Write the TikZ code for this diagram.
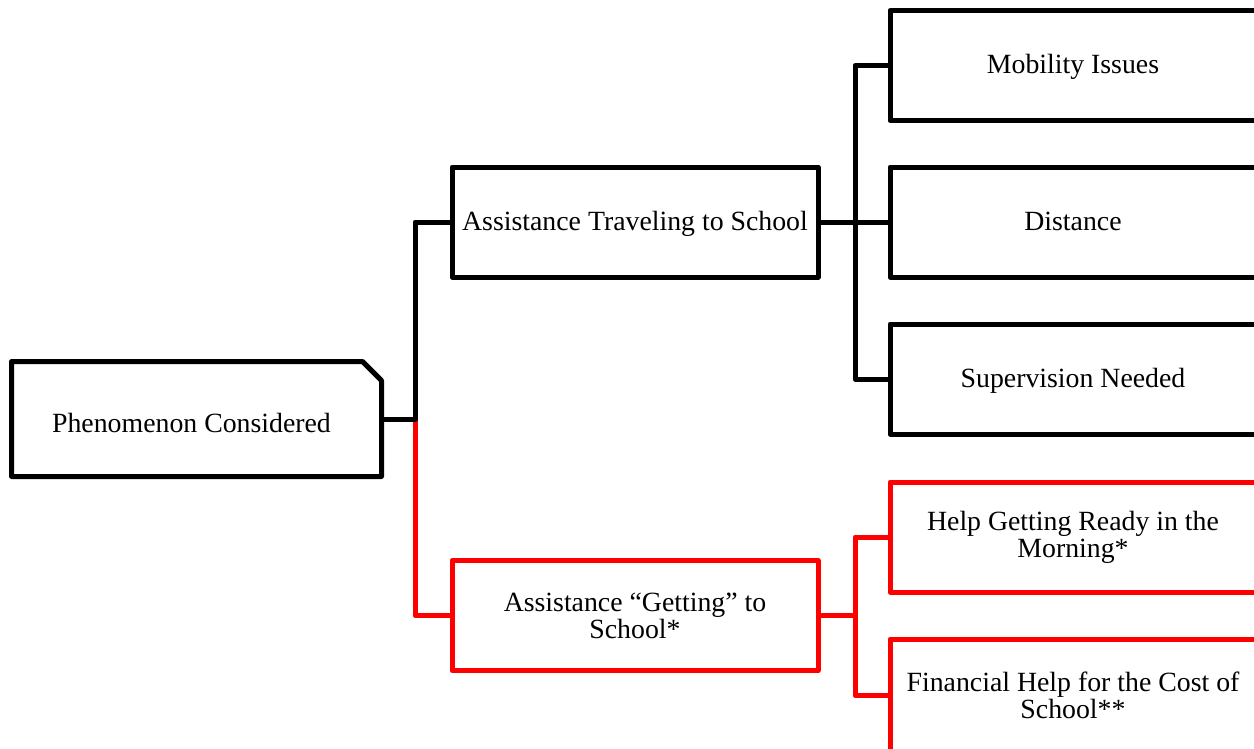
\documentclass[tikz,border=0pt]{standalone}
\usepackage{fontspec}
\setmainfont{Liberation Serif}
\usetikzlibrary{calc}
\definecolor{pred}{RGB}{255,0,0}
\tikzset{
  box/.style={draw=black, line width=5pt, line join=round, rectangle, inner sep=0pt,
    minimum width=366pt, minimum height=110pt, align=center,
    font=\fontsize{27.8}{27}\selectfont},
  oneline/.style={text height=22pt, text depth=6pt},
  rbox/.style={box, draw=pred},
  blk/.style={draw=black, line width=5pt, line join=round},
  rln/.style={draw=pred, line width=5pt, line join=round},
}
\begin{document}
\begin{tikzpicture}[x=1pt,y=-1pt]
\useasboundingbox (0,0) rectangle (1254,748);
% root
\node[box, draw=none, minimum width=365pt, text height=32pt, text depth=6pt] (phen) at (196.5,419) {\hspace*{-10pt}Phenomenon Considered};
\draw[blk] (phen.south west) -- (phen.north west) -- ([xshift=-19pt]phen.north east)
  -- ([yshift=-19pt]phen.north east) -- (phen.south east) -- cycle;
% level 1
\node[box, oneline] (trav) at (635,222) {Assistance Traveling to School};
\node[rbox] (get) at (635,615.5) {Assistance “Getting” to\\School*};
% level 2
\node[box, oneline] (mob) at (1073,65.5) {Mobility Issues};
\node[box, oneline] (dist) at (1073,222) {Distance};
\node[box, oneline] (sup) at (1073,379) {Supervision Needed};
\node[rbox] (ready) at (1073,537) {Help Getting Ready in the\\Morning*};
\node[rbox, minimum height=113pt] (fin) at (1073,695.5) {Financial Help for the Cost of\\School**};
% junctions
\coordinate (j0) at (415,419);
\coordinate (j1) at (855,222);
\coordinate (j2) at (855,615.5);
% connectors root
\draw[rln] (j0) |- (get.west);
\draw[blk] (phen.east) -- (j0) |- (trav.west);
% black branch
\draw[blk] (trav.east) -- (dist.west);
\draw[blk] (j1) |- (mob.west);
\draw[blk] (j1) |- (sup.west);
% red branch
\draw[rln] (get.east) -- (j2);
\draw[rln] (j2) |- (ready.west);
\draw[rln] (j2) |- (fin.west);
\end{tikzpicture}
\end{document}
